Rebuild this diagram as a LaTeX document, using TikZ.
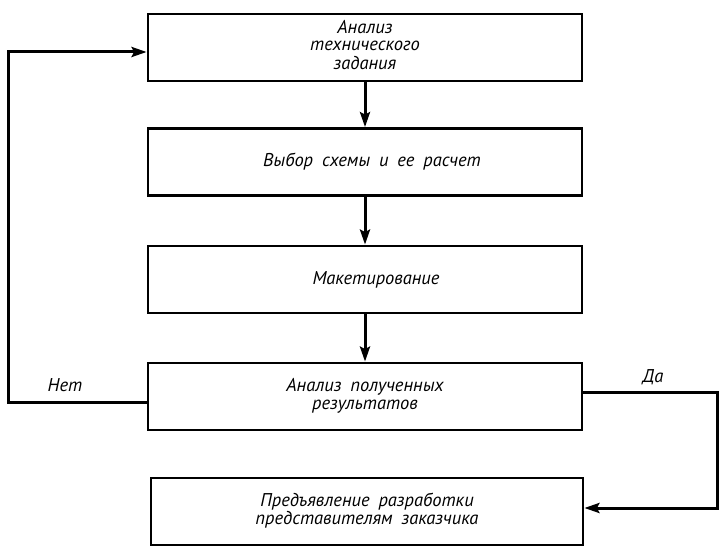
\documentclass[tikz,border=0pt]{standalone}
\usepackage{fontspec}
\setmainfont{PT Sans}[WordSpace=1.8]
\usetikzlibrary{arrows.meta}
\newcommand{\lines}[1]{\begin{tabular}{@{}c@{}}#1\end{tabular}}
\begin{document}
\begin{tikzpicture}[x=1pt,y=-1pt,
  stepbox/.style={draw, line width=2.8pt, minimum width=434pt, minimum height=67pt,
    inner sep=0pt, align=center, font=\fontsize{18.5}{17.5}\selectfont\itshape},
  flow/.style={line width=3pt, -{Stealth[length=15pt,width=10pt,inset=2.5pt]}},
  lbl/.style={font=\fontsize{18.5}{17.5}\selectfont\itshape}]
\useasboundingbox (0,0) rectangle (721,548);

% process steps
\node[stepbox] (b1) at (365,47.5) {\raisebox{4pt}{\lines{Анализ\\технического\\задания}}};
\node[stepbox] (b2) at (365,162) {\raisebox{4pt}{\hspace*{14pt}Выбор схемы и ее расчет}};
\node[stepbox] (b3) at (365,279.5) {\raisebox{2pt}{\hspace*{22pt}Макетирование}};
\node[stepbox] (b4) at (365,396.5) {\raisebox{3pt}{\lines{Анализ полученных\\результатов}}};
\node[stepbox, minimum width=432pt] (b5) at (367,511.5) {\raisebox{2pt}{\lines{Предъявление разработки\\представителям заказчика}}};

% main flow
\draw[flow] (b1) -- (b2);
\draw[flow] (b2) -- (b3);
\draw[flow] (b3) -- (b4);

% feedback loop and exit
\draw[flow] ([yshift=-5.5pt]b4.west) -- ++(-138,0) |- ([yshift=-4.5pt]b1.west);
\draw[flow] ([yshift=4pt]b4.east) -- ++(134,0) |- ([yshift=3.5pt]b5.east);

% branch labels
\node[lbl] (no) at (65,385) {Нет};
\node[lbl] (yes) at (653,377) {Да};
\end{tikzpicture}
\end{document}
